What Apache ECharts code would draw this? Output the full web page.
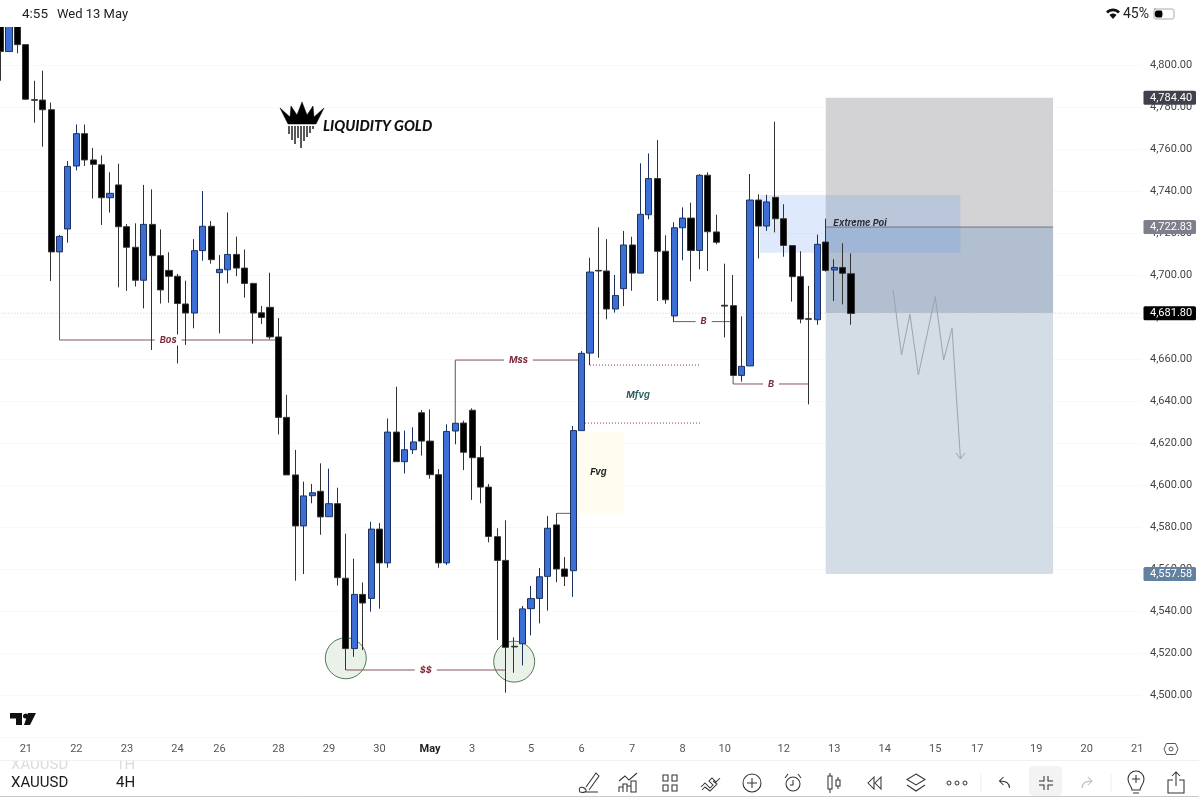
<!DOCTYPE html>
<html><head><meta charset="utf-8">
<style>html,body{margin:0;padding:0;background:#fff;overflow:hidden}#c{width:1199px;height:797px}</style>
<script src="https://cdn.jsdelivr.net/npm/echarts@6/dist/echarts.min.js"></script>
</head><body><div id="c"></div>
<script>
const opens=[4830,4806.4,4830,4809.7,4783.5,4783.3,4778.7,4711.0,4721.9,4751.9,
4767.3,4754.8,4752.5,4736.8,4742.9,4723.0,4713.2,4697.5,4724.1,4709.2,
4702.2,4699.4,4686.2,4681.9,4711.6,4723.2,4701.1,4702.5,4709.8,4703.3,
4696.0,4682.0,4684.6,4670.5,4632.2,4604.8,4580.5,4594.9,4597.0,4584.9,
4591.1,4555.6,4522.1,4547.9,4546.0,4579.0,4562.9,4625.2,4611.1,4616.8,
4634.4,4620.9,4604.9,4562.9,4625.7,4629.5,4635.6,4613.0,4599.0,4575.4,
4564.1,4523.2,4524.4,4541.1,4546.0,4556.5,4581.0,4560.0,4559.2,4625.9,
4662.8,4702.2,4701.9,4683.8,4693.5,4714.3,4700.9,4728.7,4745.9,4711.3,
4680.5,4722.5,4727.1,4711.7,4747.5,4720.5,4685.6,4685.4,4652.2,4656.7,
4735.7,4723.3,4737.0,4726.8,4714.0,4699.2,4679.2,4678.7,4715.7,4702.4,
4703.6,4700.6];
const closes=[4806.4,4830,4809.7,4783.7,4783.2,4778.7,4711.0,4718.4,4751.7,4767.3,
4754.8,4752.7,4736.8,4738.9,4723.0,4713.2,4697.5,4724.1,4709.2,4692.9,
4699.4,4686.4,4681.9,4711.6,4723.2,4707.3,4702.7,4709.8,4703.3,4696.0,
4681.9,4679.8,4670.5,4632.2,4604.8,4580.5,4594.8,4596.3,4584.8,4591.1,
4555.9,4522.1,4547.9,4543.8,4579.0,4562.9,4625.2,4611.1,4616.8,4620.5,
4620.9,4604.9,4562.9,4625.5,4629.4,4615.6,4613.0,4599.0,4575.5,4564.1,
4522.7,4522.9,4541.0,4545.9,4556.3,4579.4,4560.0,4556.5,4625.9,4662.7,
4701.4,4701.9,4683.8,4690.2,4714.3,4700.9,4728.9,4745.9,4711.3,4688.2,
4722.5,4727.1,4711.7,4747.5,4720.6,4715.6,4685.2,4652.2,4656.5,4735.7,
4723.3,4734.8,4726.8,4714.1,4699.2,4679.0,4678.9,4714.6,4702.2,4703.6,
4700.8,4681.7];
const lows=[4792.5,4806.4,4805.6,4783.3,4772.5,4761.1,4697.1,4711.0,4715.4,4749.8,
4751.9,4736.4,4723.8,4729.7,4694.1,4692.4,4694.5,4684.1,4664.3,4686.4,
4686.8,4657.9,4666.7,4674.6,4706.8,4705.4,4672.2,4696.0,4699.4,4689.2,
4667.3,4676.7,4669.4,4624.1,4604.8,4554.4,4557.6,4591.3,4576.3,4584.9,
4552.1,4511.9,4518.2,4521.4,4539.7,4541.1,4560.6,4611.1,4605.5,4614.8,
4614.0,4603.0,4560.6,4561.9,4619.4,4607.1,4592.9,4591.3,4572.7,4526.2,
4501.1,4510.6,4514.1,4528.4,4534.1,4540.2,4553.7,4551.9,4546.7,4625.9,
4657.1,4660.6,4678.9,4682.1,4685.2,4692.5,4700.9,4726.5,4687.6,4686.3,
4677.5,4707.0,4697.0,4702.7,4701.9,4714.6,4670.3,4652.2,4649.2,4656.7,
4707.9,4721.0,4720.3,4708.7,4687.3,4677.0,4638.4,4676.3,4701.6,4687.6,
4686.0,4676.3];
const highs=[4835,4835,4835,4809.7,4792.5,4797.3,4782.1,4719.1,4754.3,4771.7,
4771.7,4760.5,4757.0,4748.9,4753.0,4724.3,4724.6,4742.9,4740.8,4721.7,
4710.8,4700.5,4697.3,4717.1,4740.0,4725.7,4709.5,4729.8,4718.3,4712.2,
4696.3,4685.2,4701.1,4679.5,4642.9,4616.7,4601.6,4600.5,4610.3,4607.8,
4598.7,4576.8,4564.9,4553.6,4582.5,4581.9,4631.7,4646.8,4625.9,4627.5,
4635.7,4636.0,4607.6,4628.9,4629.4,4630.6,4636.5,4618.6,4600.5,4579.4,
4583.2,4527.5,4542.4,4551.9,4560.5,4585.2,4586.5,4565.7,4628.1,4663.8,
4708.2,4722.7,4717.1,4700.0,4721.0,4718.2,4753.2,4757.9,4764.3,4718.9,
4725.1,4732.2,4734.4,4748.0,4748.9,4728.7,4705.4,4700.0,4680.3,4748.1,
4738.4,4738.2,4773.0,4733.7,4714.0,4711.3,4694.8,4719.2,4726.8,4707.5,
4715.1,4710.3];
const barCount=136;
const tickBars=[3,9,15,21,26,33,39,45,51,56,63,69,75,81,86,93,99,105,111,116,123,129,135];
const tickLabels=['21','22','23','24','26','28','29','30','May','3','5','6','7','8','10','12','13','14','15','17','19','20','21'];
const zones=[[98,4784.4,125,4722.83],[98,4722.83,125,4681.8],[98,4681.8,125,4557.58],[90.2,4738.1,114,4710.6],[68.4,4625.2,74,4586.7]];
const zoneFills=['#d3d3d5','#b2bfd1','#d4dce6','rgba(90,150,235,0.2)','#fffdf0'];
const circles=[[41,4517.5],[61,4515.9]];
const levelLines=[[7,4669.05,33,4669.05],[41,4511.9,60,4511.9],[54,4659.5,69,4659.5],[80,4677.8,87,4677.8],[87,4648.1,96,4648.1],[66,4586.5,68,4586.5]];
const connectors=[[7,4711,7,4669.05],[54,4659.5,54,4629.4],[87,4652.2,87,4648.1]];
const dottedLines=[[70,4657.1,83.1,4657.1],[69.4,4629.5,83.1,4629.5]];
const lastPriceLine=[[-0.5,4681.8,135.5,4681.8]];
const entryLine=[[98,4722.83,125,4722.83]];
const zigzagBars=[106,107,108,109,111,112,113,114];
const zigzagPrices=[4692.9,4661.9,4681.3,4652.4,4689.7,4659.5,4674.6,4612.4];
const notes=[['Bos',19.9,4669.05],['$$',50.5,4511.9],['Mss',61.5,4659.5],['B',83.5,4677.8],['B',91.5,4648.1]];
const freeNotes=[['Mfvg',75.7,4642.9,'#2f5f63'],['Fvg',71,4606.2,'#222'],['Extreme Poi',98.9,4724.8,'#2a2d36']];
const priceTags=[[4784.40,'#3f414d'],[4722.83,'#7d7f8b'],[4557.58,'#62809f'],[4681.80,'#000']];

const candles=opens.map((o,i)=>[o,closes[i],lows[i],highs[i]]);
const fmt=v=>Number(v).toLocaleString('en-US',{minimumFractionDigits:2,maximumFractionDigits:2});
const FONT='Roboto, "Liberation Sans", sans-serif';
const NOTE='italic bold 9.2px Inter, sans-serif';
const chart=echarts.init(document.getElementById('c'),null,{renderer:'canvas'});
const BW=8.42;

function lineSeries(rows,style,z){return {type:'custom',xAxisIndex:1,yAxisIndex:0,z,silent:true,data:rows,encode:{x:[0,2],y:[1,3]},
  renderItem(p,api){const a=api.coord([api.value(0),api.value(1)]),b=api.coord([api.value(2),api.value(3)]);
    return {type:'line',shape:{x1:a[0],y1:a[1],x2:b[0],y2:b[1]},style};}};}

const cs={stroke:'#333',fill:'none',lineWidth:1.05};
function icon(x,y,d,style){return {type:'path',x,y,silent:true,shape:{pathData:d},style:Object.assign({},cs,style||{})};}
const iconEls=[
 icon(1113,14,'M-7,-2.5 C-3,-6.5 3,-6.5 7,-2.5 L5,-0.5 C2,-3.5 -2,-3.5 -5,-0.5 Z M-3.5,1 C-1.5,-1 1.5,-1 3.5,1 L0,5 Z',{fill:'#111',stroke:'none'}),
 icon(1164,14,'M-10,-5 H8 C9.5,-5 10,-4 10,-3 V3 C10,4 9.5,5 8,5 H-8 C-9.5,5 -10,4 -10,3 V-3 C-10,-4 -9.5,-5 -8,-5 Z',{lineWidth:1,stroke:'#aaa'}),
 icon(1164,14,'M-9,-3.5 H-3 C-1,-3.5 -1,3.5 -3,3.5 H-7 C-10,3.5 -10,-3.5 -7,-3.5 Z',{fill:'#000',stroke:'none'}),
 icon(0,0,'M280,108 L290,117 L291,106 L297,115 L302,102 L307,115 L313,106 L314,117 L324,108 L316,124 L288,124 Z',{fill:'#000',stroke:'#000',lineWidth:.5}),
 icon(0,0,'M289,126 V134 M292,126 V140 M295,126 V144 M298,126 V138 M301,126 V148 M304,126 V141 M307,126 V137 M310,126 V133 M313,126 V129',{stroke:'#222',lineWidth:1.5}),
 icon(0,0,'M10,713 H22 V725 H16 V718.5 H10 Z M28,713 H36 L30,725 H24 Z M25.5,713.5 A2.5,2.5 0 1 1 25.49,713.5 Z',{fill:'#111',stroke:'none'}),
 icon(1171,749,'M-4.5,-5.5 H4.5 L7,0 L4.5,5.5 H-4.5 L-7,0 Z M-2,0 A2,2 0 1 1 2,0 A2,2 0 1 1 -2,0 Z',{stroke:'#555',lineWidth:1}),
 icon(589,783,'M-9,9 C-12,3 -5,3 -3,7 C-2,9 -6,10 -9,9 M-3,4 L7,-10 L10,-7 L0,7 M-4,9 H9'),
 icon(629,783,'M-10,-2 L-4,-7 L0,-3 L8,-10 M-10,9 V4 H-6 V9 M-6,9 V1 H-2 V9 M-2,9 V3 H2 V9 M2,9 V-2 H7 V9 Z'),
 icon(670,783,'M-7,-8 H-2 V-2 H-7 Z M2,-8 H7 V-2 H2 Z M-7,2 H-2 V8 H-7 Z M2,2 H7 V8 H2 Z'),
 icon(711,783,'M-10,4 L-6,0 L-1,5 L2,2 L-2,-2 L1,-5 L5,-1 L9,-5 M-9,7 L-6,4 L-1,8 L6,1 L2,-2'),
 icon(752,783,'M-9,0 A9,9 0 1 1 9,0 A9,9 0 1 1 -9,0 Z M0,-5 V5 M-5,0 H5'),
 icon(793,783,'M-7,1 A7,7 0 1 1 7,1 A7,7 0 1 1 -7,1 Z M0,-3 V2 H-3 M-8,-5 L-5,-9 M8,-5 L5,-9'),
 icon(834,783,'M-4,-10 V-7 M-6,-7 H-2 V6 H-6 Z M-4,6 V10 M4,-6 V-3 M2,-3 H6 V3 H2 Z M4,3 V6'),
 icon(875,783,'M-1,-6 L-7,0 L-1,6 Z M6,-6 L0,0 L6,6 Z'),
 icon(916,783,'M0,-9 L9,-3.5 L0,2 L-9,-3.5 Z M-9,2 L0,8 L9,2'),
 icon(957,783,'M-10,0 A2,2 0 1 1 -6,0 A2,2 0 1 1 -10,0 Z M-2,0 A2,2 0 1 1 2,0 A2,2 0 1 1 -2,0 Z M6,0 A2,2 0 1 1 10,0 A2,2 0 1 1 6,0 Z',{lineWidth:1}),
 icon(1004.5,783,'M5,5 C5,0 2,-2 -5,-2 M-1,-6 L-5,-2 L-1,2'),
 icon(1046,783,'M-2,-7 V-2 H-7 M2,-7 V-2 H7 M-2,7 V2 H-7 M2,7 V2 H7'),
 icon(1087,783,'M-5,5 C-5,0 -2,-2 5,-2 M1,-6 L5,-2 L1,2',{stroke:'#bbb'}),
 icon(1136,782,'M-4,8 C-4,4 -8,3 -8,-3 A8,8 0 1 1 8,-3 C8,3 4,4 4,8 Z M0,-7 V1 M-4,-3 H4 M-3,11 H3'),
 icon(1176,783,'M-3,-3 H-8 V10 H8 V-3 H3 M0,3 V-11 M-4,-7 L0,-11 L4,-7')
];

const series=[
 {type:'custom',xAxisIndex:1,yAxisIndex:0,z:1,silent:true,data:zones,encode:{x:[0,2],y:[1,3]},
  renderItem(p,api){const a=api.coord([api.value(0),api.value(1)]),b=api.coord([api.value(2),api.value(3)]);
    return {type:'rect',shape:{x:a[0],y:a[1],width:b[0]-a[0],height:b[1]-a[1]},style:{fill:zoneFills[p.dataIndex]}};}},
 {type:'custom',xAxisIndex:1,yAxisIndex:0,z:1,silent:true,data:circles,encode:{x:0,y:1},
  renderItem(p,api){const a=api.coord([api.value(0),api.value(1)]);
    return {type:'circle',shape:{cx:a[0],cy:a[1],r:20.5},style:{fill:'#e9f1e8',stroke:'#4d7a52',lineWidth:1}};}},
 lineSeries(lastPriceLine,{stroke:'#c9c9c9',lineWidth:1,lineDash:[1,2]},1),
 lineSeries(entryLine,{stroke:'#6f7480',lineWidth:1},1),
 lineSeries(levelLines,{stroke:'#84525a',lineWidth:1},1),
 lineSeries(connectors,{stroke:'#555',lineWidth:1},1),
 lineSeries(dottedLines,{stroke:'#8a3a48',lineWidth:1,lineDash:[1,2]},1),
 {type:'line',xAxisIndex:1,yAxisIndex:0,z:3,silent:true,showSymbol:false,symbol:'none',animation:false,
  data:zigzagBars.map((b,i)=>[b,zigzagPrices[i]]),lineStyle:{color:'#a0a3a8',width:1}},
 {type:'custom',xAxisIndex:1,yAxisIndex:0,z:3,silent:true,data:[[zigzagBars[7],zigzagPrices[7]]],encode:{x:0,y:1},
  renderItem(p,api){const a=api.coord([api.value(0),api.value(1)]);
    return {type:'polyline',shape:{points:[[a[0]-4.5,a[1]-6],[a[0],a[1]],[a[0]+4.5,a[1]-6]]},style:{stroke:'#a0a3a8',lineWidth:1,fill:'none'}};}},
 {type:'candlestick',name:'XAUUSD',xAxisIndex:0,yAxisIndex:0,z:2,barWidth:6.6,silent:true,data:candles,
  itemStyle:{color:'#3c6fd6',color0:'#000',borderColor:'#1c3160',borderColor0:'#333',borderWidth:1}},
 {type:'custom',xAxisIndex:1,yAxisIndex:0,z:4,silent:true,data:notes.map(n=>[n[1],n[2]]),encode:{x:0,y:1},
  renderItem(p,api){const a=api.coord([api.value(0),api.value(1)]);
    return {type:'text',style:{x:a[0],y:a[1],text:notes[p.dataIndex][0],fill:'#7c2d3a',font:NOTE,align:'center',verticalAlign:'middle',backgroundColor:'#fff',padding:[1,5]}};}},
 {type:'custom',xAxisIndex:1,yAxisIndex:0,z:4,silent:true,data:freeNotes.map(n=>[n[1],n[2]]),encode:{x:0,y:1},
  renderItem(p,api){const a=api.coord([api.value(0),api.value(1)]),n=freeNotes[p.dataIndex];
    return {type:'text',style:{x:a[0],y:a[1],text:n[0],fill:n[3],font:NOTE,align:n[0]==='Extreme Poi'?'left':'center',verticalAlign:'middle'}};}},
 {type:'custom',xAxisIndex:1,yAxisIndex:0,z:20,silent:true,clip:false,data:priceTags.map(t=>[135.5,t[0]]),encode:{x:0,y:1},
  renderItem(p,api){const a=api.coord([api.value(0),api.value(1)]),t=priceTags[p.dataIndex];
    return {type:'group',children:[
      {type:'rect',shape:{x:a[0]+2,y:a[1]-7,width:52.5,height:14,r:1.5},style:{fill:t[1]}},
      {type:'text',style:{x:a[0]+8.5,y:a[1],text:fmt(t[0]),fill:'#fff',font:'11px '+FONT,align:'left',verticalAlign:'middle'}}]};}},
 {type:'custom',xAxisIndex:1,yAxisIndex:0,z:120,silent:true,clip:false,data:[[0,4600]],encode:{x:0,y:1},
  renderItem(){return {type:'group',children:iconEls};}}
];

function label(x,y,t,size,fill,extra){return Object.assign({type:'text',z:100,silent:true,x,y,style:{text:t,fill,font:size+'px '+FONT,verticalAlign:'middle'}},extra||{});}
const graphics=[
 {type:'rect',z:99,silent:true,shape:{x:0,y:0,width:1199,height:27},style:{fill:'#fff'}},
 label(22,14.5,'4:55',13.5,'#222'),
 label(57,14.5,'Wed 13 May',13,'#222'),
 label(1123,14.5,'45%',14,'#222'),
 {type:'text',z:100,silent:true,x:323,y:126,style:{text:'LIQUIDITY GOLD',fill:'#111',font:'italic 900 14.5px Lato, sans-serif',verticalAlign:'middle'}},
 label(11,765,'XAUUSD',15,'#dcdcdc'),
 label(116,765,'1H',15,'#dcdcdc'),
 {type:'rect',z:101,silent:true,shape:{x:0,y:755,width:1199,height:5.5},style:{fill:'#fff'}},
 {type:'line',z:101,silent:true,shape:{x1:0,y1:760.5,x2:1199,y2:760.5},style:{stroke:'#f0f0f0',lineWidth:1}},
 label(11,783,'XAUUSD',15,'#1a1a1a'),
 label(116,783,'4H',15,'#1a1a1a'),
 {type:'line',z:101,silent:true,shape:{x1:0,y1:796.5,x2:1199,y2:796.5},style:{stroke:'#c9c9c9',lineWidth:1}},
 {type:'line',z:100,silent:true,shape:{x1:981,y1:774,x2:981,y2:792},style:{stroke:'#eee',lineWidth:1}},
 {type:'line',z:100,silent:true,shape:{x1:1111,y1:774,x2:1111,y2:792},style:{stroke:'#eee',lineWidth:1}},
 {type:'rect',z:99,silent:true,shape:{x:1029,y:766,width:33,height:30,r:4},style:{fill:'#f3f3f3'}}
];

chart.setOption({
 animation:false,backgroundColor:'#fff',
 grid:{left:-3.63,top:23,width:BW*barCount,height:714,containLabel:false,outerBoundsMode:'none'},
 xAxis:[
  {type:'category',data:Array.from({length:barCount},(_,i)=>String(i)),boundaryGap:true,
   axisLine:{show:false},axisTick:{show:false},splitLine:{show:false},
   axisLabel:{interval:0,margin:7,fontSize:11,color:'#555',fontFamily:FONT,hideOverlap:false,
    formatter:(v,idx)=>{const k=tickBars.indexOf(Number(v));if(k<0)return '';return tickLabels[k]==='May'?'{b|May}':tickLabels[k];},
    rich:{b:{fontSize:11,fontWeight:'bold',color:'#222',fontFamily:FONT}}}},
  {type:'value',min:-0.5,max:135.5,show:false,scale:true,splitLine:{show:false}}
 ],
 yAxis:[{type:'value',position:'right',min:4480,max:4820,interval:20,
   axisLine:{show:false},axisTick:{show:false},splitLine:{lineStyle:{color:'#f8f8f8',width:1}},
   axisLabel:{margin:8.5,fontSize:11,color:'#444',fontFamily:FONT,showMinLabel:false,showMaxLabel:false,align:'left',padding:[3,0,0,0],formatter:v=>fmt(v)}}],
 graphic:graphics,
 series
});
</script></body></html>
